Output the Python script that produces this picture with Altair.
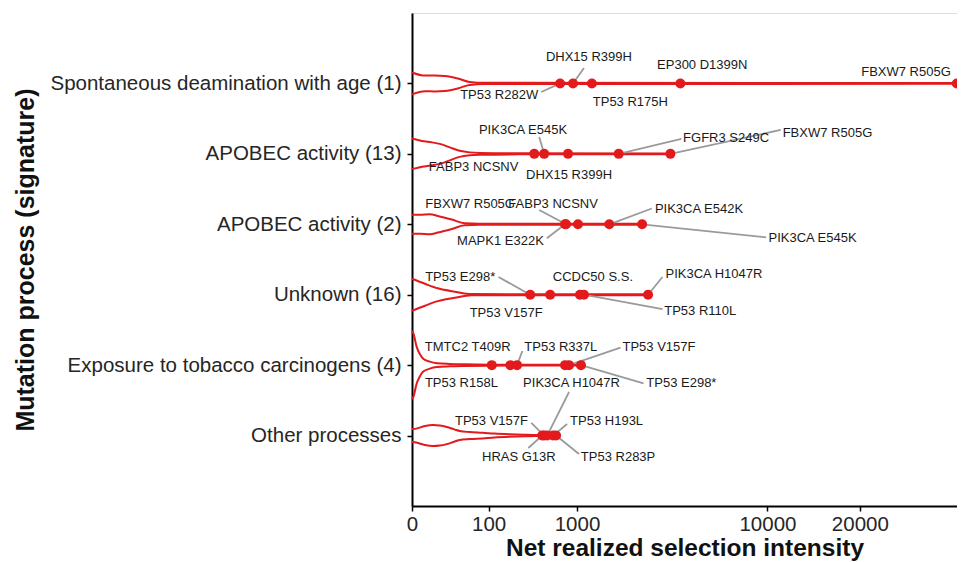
import json
import altair as alt
import pandas as pd

CATEGORIES = [
    "Spontaneous deamination with age (1)",
    "APOBEC activity (13)",
    "APOBEC activity (2)",
    "Unknown (16)",
    "Exposure to tobacco carcinogens (4)",
    "Other processes",
]
X_TICKS = [0, 100, 1000, 10000, 20000]

# variant points (row index 1..6 from top)
POINT_ROW = [1, 1, 1, 1, 1,
             2, 2, 2, 2, 2,
             3, 3, 3, 3, 3,
             4, 4, 4, 4, 4,
             5, 5, 5, 5, 5, 5,
             6, 6, 6, 6, 6]
POINT_VALUE = [723, 929, 1296, 4303, 36000,
               407, 514, 846, 1967, 3842,
               798, 814, 1018, 1710, 2712,
               368, 587, 1055, 1132, 2929,
               113, 212, 258, 798, 862, 1074,
               491, 514, 550, 626, 666]
POINT_LABEL = ["TP53 R282W", "DHX15 R399H", "TP53 R175H", "EP300 D1399N", "FBXW7 R505G",
               "FABP3 NCSNV", "PIK3CA E545K", "DHX15 R399H", "FGFR3 S249C", "FBXW7 R505G",
               "MAPK1 E322K", "FABP3 NCSNV", "FBXW7 R505G", "PIK3CA E542K", "PIK3CA E545K",
               "TP53 E298*", "TP53 V157F", "CCDC50 S.S.", "TP53 R110L", "PIK3CA H1047R",
               "TMTC2 T409R", "TP53 R158L", "TP53 R337L", "PIK3CA H1047R", "TP53 V157F", "TP53 E298*",
               "HRAS G13R", "TP53 V157F", "PIK3CA H1047R", "TP53 H193L", "TP53 R283P"]
# repelled label anchors (data coordinates)
LABEL_X = [147.5, 1233, 2318, 5443, 26838,
           52.1, 304.7, 862.3, 6898, 15966,
           154.1, 626, 43.8, 5261, 14308,
           24.94, 185.7, 1318, 5332, 6129,
           38.4, 26.8, 733.4, 903.9, 3355, 4351,
           271.6, 111.9, 903.9, 1641, 1947.6]
LABEL_Y = [1.164, 0.629, 1.259, 0.738, 0.842,
           2.182, 1.661, 2.300, 1.771, 1.700,
           3.233, 2.712, 2.712, 2.787, 3.199,
           3.753, 4.264, 3.744, 4.231, 3.710,
           4.738, 5.249, 4.738, 5.249, 4.738, 5.253,
           6.300, 5.789, 5.249, 5.789, 6.300]
# leader-segment end (None = no segment drawn)
SEGMENT_X = [480.3, 1132, None, None, None,
             None, 458.5, None, 4351, 11164,
             546.3, 458.5, None, 3071, 9889,
             144.0, None, None, 3499, 3499,
             None, None, 299, None, 2016, 2765,
             350, 377.8, 862, 830, 1036.6]
SEGMENT_Y = [1.122, 0.781, None, None, None,
             None, 1.761, None, 1.789, 1.661,
             3.199, 2.797, None, 2.776, 3.185,
             3.748, None, None, 4.203, 3.748,
             None, None, 4.799, None, 4.752, 5.258,
             6.176, 5.821, 5.381, 5.836, 6.262]

# violin outlines: evaluation grid and half-width (in row units)
VIOLIN_X = [
    [0, 0.48, 2.66, 7.86, 21.3, 42.7, 85, 36000],
    [0, 0.219, 1.749, 4.8, 12, 24.2, 42.7, 68.7, 275, 3842],
    [0, 0.112, 1.275, 3.84, 14, 32.5, 68.7, 2712],
    [0, 0.48, 3.84, 17.4, 47.2, 2929],
    [0, 0.0006, 0.0227, 0.112, 0.315, 1.275, 3.42, 12, 32.5, 103.7, 1074],
    [0, 0.0059, 0.48, 2.02, 4.8, 9.37, 17.4, 24.2, 42.7, 78.2, 125, 205.8, 315, 427, 666],
]
VIOLIN_HW = [
    [0.156, 0.111, 0.114, 0.107, 0.071, 0.021, 0.009, 0.006],
    [0.217, 0.182, 0.163, 0.142, 0.092, 0.043, 0.021, 0.013, 0.007, 0.006],
    [0.135, 0.135, 0.142, 0.118, 0.067, 0.014, 0.007, 0.006],
    [0.227, 0.156, 0.091, 0.043, 0.009, 0.006],
    [0.483, 0.450, 0.260, 0.156, 0.092, 0.050, 0.028, 0.017, 0.011, 0.007, 0.006],
    [0.092, 0.095, 0.135, 0.149, 0.142, 0.121, 0.085, 0.064, 0.050, 0.040, 0.028, 0.018, 0.011, 0.007, 0.006],
]

RED = "#E31A1C"
FONT = "Liberation Sans"

vrows = []
for r, (xs, hws) in enumerate(zip(VIOLIN_X, VIOLIN_HW), start=1):
    for side, sign in (("upper", -1), ("lower", 1)):
        for i, (xv, hv) in enumerate(zip(xs, hws)):
            vrows.append({"row": r, "side": side, "grp": f"{r}-{side}", "ord": i,
                          "x": xv, "y": r + sign * hv})
violin_df = pd.DataFrame(vrows)

points_df = pd.DataFrame({"x": POINT_VALUE, "y": POINT_ROW, "label": POINT_LABEL})
labels_df = pd.DataFrame({"x": LABEL_X, "y": LABEL_Y, "label": POINT_LABEL})
labels_df = labels_df.drop_duplicates(subset=["x", "y", "label"])
seg_rows = []
for px, py, sx, sy in zip(POINT_VALUE, POINT_ROW, SEGMENT_X, SEGMENT_Y):
    if sx is not None:
        seg_rows.append({"x": px, "y": py, "x2": sx, "y2": sy})
seg_df = pd.DataFrame(seg_rows)

xscale = alt.Scale(type="pow", exponent=1 / 3, domain=[0, 36040], nice=False, zero=True)
yscale = alt.Scale(domain=[0, 7], reverse=True, nice=False, zero=False)

label_expr = json.dumps([""] + CATEGORIES) + "[datum.value]"

xaxis = alt.Axis(values=X_TICKS, format="d", title="Net realized selection intensity",
                 grid=False, labelFontSize=20.5, labelColor="#262626", labelPadding=3,
                 tickSize=5, tickColor="#000", tickWidth=1.5, domainColor="#000", domainWidth=2,
                 titleFontSize=24.5, titleFontWeight="bold", titleColor="#111", titlePadding=2,
                 labelFlush=False, labelOverlap=False)
yaxis = alt.Axis(values=[1, 2, 3, 4, 5, 6], labelExpr=label_expr, labelLimit=600,
                 title="Mutation process (signature)", grid=False, labelFontSize=20.5,
                 labelColor="#262626", labelPadding=6, tickSize=5, tickColor="#000",
                 tickWidth=1.5, domainColor="#000", domainWidth=2, titleFontSize=25,
                 titleFontWeight="bold", titleColor="#111", titleX=-374)

X = alt.X("x:Q", scale=xscale, axis=xaxis)
Y = alt.Y("y:Q", scale=yscale, axis=yaxis)

violins = alt.Chart(violin_df).mark_line(color=RED, strokeWidth=2, interpolate="monotone").encode(
    x=X, y=Y, detail="grp:N", order="ord:Q")

segments = alt.Chart(seg_df).mark_rule(color="#9a9a9a", strokeWidth=1.8).encode(
    x=X, y=Y, x2="x2:Q", y2="y2:Q")

points = alt.Chart(points_df).mark_circle(color=RED, size=100, opacity=1).encode(x=X, y=Y)

texts = alt.Chart(labels_df).mark_text(fontSize=13, font=FONT, color="#1a1a1a",
                                       align="center", baseline="middle").encode(
    x=X, y=Y, text="label:N")

chart = alt.layer(violins, segments, points, texts).properties(
    width=545, height=493,
    autosize=alt.AutoSizeParams(type="none"),
    padding={"left": 404, "top": 5, "right": 0, "bottom": 60},
).configure_view(stroke=None).configure(font=FONT)

chart.save("out.html", embed_options={"renderer": "svg", "actions": False})
